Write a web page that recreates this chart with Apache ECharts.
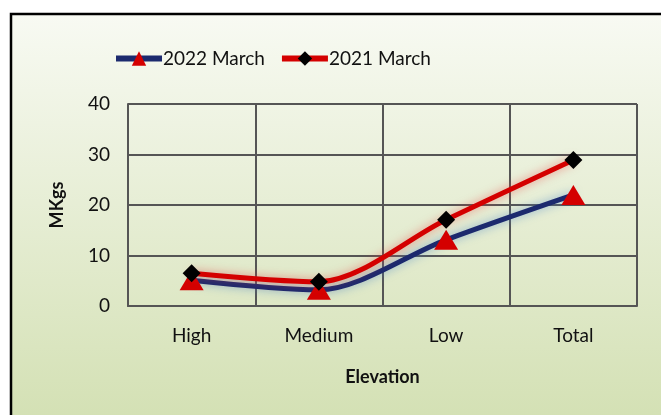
<!DOCTYPE html>
<html><head><meta charset="utf-8">
<script src="https://cdn.jsdelivr.net/npm/echarts@6/dist/echarts.min.js"></script>
<style>html,body{margin:0;padding:0;background:#fff}#c{width:661px;height:415px}</style>
</head><body><div id="c"></div>
<script>
var categories = ['High', 'Medium', 'Low', 'Total'];
var march2022 = [5.1, 3.2, 13.1, 22.0];
var march2021 = [6.5, 4.8, 17.1, 28.9];
var yTicks = [0, 10, 20, 30, 40];
var seriesNames = ['2022 March', '2021 March'];

var FONT = 'Lato';
var chart = echarts.init(document.getElementById('c'));
chart.setOption({
  backgroundColor: '#ffffff',
  animation: false,
  graphic: [{
    type: 'rect', z: -10, silent: true,
    shape: {x: 11, y: 14, width: 660, height: 410},
    style: {
      fill: new echarts.graphic.LinearGradient(0, 0, 0, 1, [
        {offset: 0, color: '#f8faf3'}, {offset: 1, color: '#d3e0b3'}
      ]),
      stroke: '#000', lineWidth: 2.5
    }
  }],
  legend: {
    top: 44, left: 108, itemGap: 14, itemWidth: 46, itemHeight: 18,
    lineStyle: {width: 6},
    textStyle: {fontFamily: FONT, fontSize: 19, color: '#111', padding: [0,0,0,-4]},
    data: seriesNames
  },
  grid: {left: 128, right: 24, top: 104, bottom: 109},
  xAxis: {
    type: 'category', data: categories, boundaryGap: true,
    name: 'Elevation', nameLocation: 'middle', nameGap: 62,
    nameTextStyle: {fontFamily: FONT, fontSize: 18, fontWeight: 'bold', color: '#111'},
    axisLine: {lineStyle: {color: '#555', width: 2}},
    axisTick: {show: false},
    axisLabel: {fontFamily: FONT, fontSize: 19, color: '#111', margin: 20},
    splitLine: {show: true, lineStyle: {color: '#555', width: 2}}
  },
  yAxis: {
    type: 'value', min: yTicks[0], max: yTicks[yTicks.length-1], interval: 10,
    name: 'MKgs', nameLocation: 'middle', nameGap: 62,
    nameTextStyle: {fontFamily: FONT, fontSize: 18, fontWeight: 'bold', color: '#111'},
    axisLine: {show: true, lineStyle: {color: '#555', width: 2}},
    axisTick: {show: false},
    axisLabel: {fontFamily: FONT, fontSize: 19, color: '#111', margin: 18},
    splitLine: {show: true, lineStyle: {color: '#555', width: 2}}
  },
  series: [{
    name: seriesNames[0], type: 'line', data: march2022, smooth: 0.3,
    symbol: 'triangle', symbolSize: [24, 20], z: 2,
    itemStyle: {color: '#d40000'},
    lineStyle: {color: '#1c2a6e', width: 5, shadowColor: 'rgba(70,130,200,0.6)', shadowBlur: 10},
    emphasis: {disabled: true}
  }, {
    name: seriesNames[1], type: 'line', data: march2021, smooth: 0.3,
    symbol: 'diamond', symbolSize: [18, 18], z: 3,
    itemStyle: {color: '#000'},
    lineStyle: {color: '#d40000', width: 5, shadowColor: 'rgba(230,60,60,0.55)', shadowBlur: 10},
    emphasis: {disabled: true}
  }]
});
</script></body></html>
